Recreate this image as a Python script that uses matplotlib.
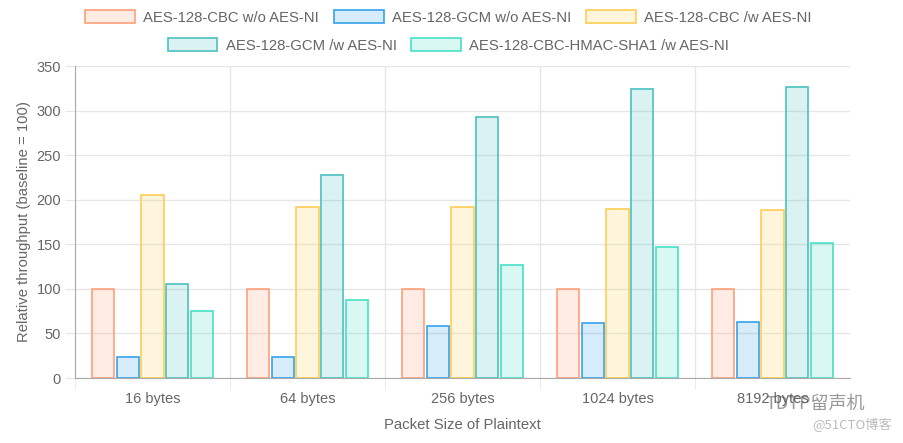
import matplotlib
matplotlib.use("Agg")
import matplotlib.pyplot as plt
import numpy as np
from matplotlib.patches import Patch

plt.rcParams["font.family"] = ["Liberation Sans", "DejaVu Sans"]

categories = ["16 bytes", "64 bytes", "256 bytes", "1024 bytes", "8192 bytes"]
series_names = [
    "AES-128-CBC w/o AES-NI",
    "AES-128-GCM w/o AES-NI",
    "AES-128-CBC /w AES-NI",
    "AES-128-GCM /w AES-NI",
    "AES-128-CBC-HMAC-SHA1 /w AES-NI",
]
cbc_no_ni = [100, 100, 100, 100, 100]
gcm_no_ni = [24, 24, 58, 62, 63]
cbc_ni = [205, 192, 192, 190, 188]
gcm_ni = [106, 228, 293, 324, 327]
hmac_ni = [75, 88, 127, 147, 152]
series = [cbc_no_ni, gcm_no_ni, cbc_ni, gcm_ni, hmac_ni]

edge_colors = ["#ffa07a", "#36a2eb", "#ffcd56", "#4bc0c0", "#46e0c4"]

text_color = "#666666"
grid_color = "#e6e6e6"

fig = plt.figure(figsize=(9.04, 4.43), dpi=100)
ax = fig.add_axes([75 / 904, 65 / 443, 775 / 904, 312 / 443])

x = np.arange(len(categories))
slot = 0.8 / len(series)
width = slot * 0.9
handles = []
for i, (name, vals, col) in enumerate(zip(series_names, series, edge_colors)):
    rgb = matplotlib.colors.to_rgb(col)
    ax.bar(x + (i - 2) * slot, vals, width=width, color=rgb + (0.2,),
           edgecolor=col, linewidth=1.2, zorder=3)
    handles.append(Patch(facecolor=rgb + (0.2,), edgecolor=col, linewidth=1.2, label=name))

ax.set_xlim(-0.5, 4.5)
ax.set_ylim(0, 350)
ax.set_yticks(np.arange(0, 351, 50))
ax.set_xticks(x)
ax.set_xticklabels(categories)
ax.set_xticks(np.arange(-0.5, 4.0, 1.0), minor=True)

ax.yaxis.grid(True, color=grid_color, linewidth=1, zorder=0)
ax.xaxis.grid(True, which="minor", color=grid_color, linewidth=1, zorder=0)
ax.tick_params(axis="y", length=7, color=grid_color, labelsize=10.5,
               labelcolor=text_color, pad=3)
ax.tick_params(axis="x", which="major", length=0, labelsize=10.5,
               labelcolor=text_color, pad=10)
ax.tick_params(axis="x", which="minor", length=8, color=grid_color)

for s in ["top", "right"]:
    ax.spines[s].set_visible(False)
for s in ["left", "bottom"]:
    ax.spines[s].set_color("#aaaaaa")
    ax.spines[s].set_zorder(4)

ax.set_ylabel("Relative throughput (baseline = 100)", fontsize=10.7,
              color=text_color, labelpad=4)
ax.set_xlabel("Packet Size of Plaintext", fontsize=10.7, color=text_color,
              labelpad=9)

leg_kw = dict(loc="center", frameon=False, fontsize=10.7, handlelength=3.36,
              handleheight=1.0, handletextpad=0.54, columnspacing=1.0,
              labelcolor=text_color, borderpad=0.2)
fig.legend(handles=handles[:3], ncol=3,
           bbox_to_anchor=(0.496, 1 - 17.5 / 443), **leg_kw)
fig.legend(handles=handles[3:], ncol=2,
           bbox_to_anchor=(0.496, 1 - 45.5 / 443), **leg_kw)

# watermark
fig.text(815 / 904, 1 - 404 / 443, "TDTP留声机", fontsize=13, color="#555555",
         alpha=0.6, ha="center", va="center",
         family=["Noto Sans CJK SC", "DejaVu Sans"])
fig.text(852 / 904, 1 - 425 / 443, "@51CTO博客", fontsize=9.5, color="#bbbbbb",
         ha="center", va="center", family=["Noto Sans CJK SC", "DejaVu Sans"])

fig.savefig("out.png", dpi=100)
